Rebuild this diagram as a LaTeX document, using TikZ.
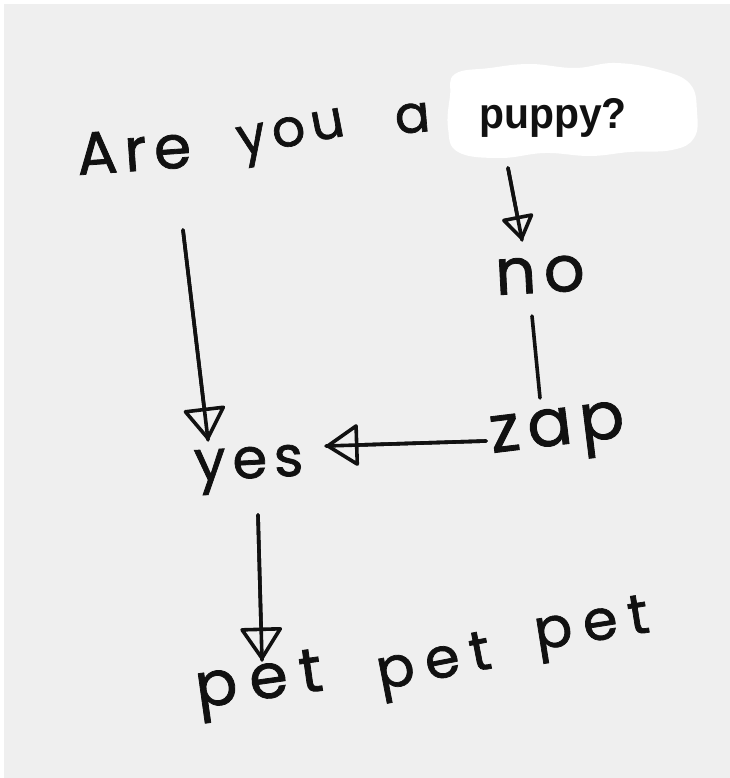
\documentclass[tikz,border=0pt]{standalone}
\usepackage{fontspec}
\usetikzlibrary{arrows.meta}
\newfontfamily\handfont{Poppins}[LetterSpace=12, FakeBold=1.3]
\newfontfamily\handwide{Poppins}[LetterSpace=20, FakeBold=1.3]
\newfontfamily\printfont{Liberation Sans}
\definecolor{paper}{HTML}{EFEFEF}
\definecolor{ink}{HTML}{111111}
\tikzset{
  hand/.style={inner sep=0pt, anchor=base west, text=ink, font=\handfont},
  handw/.style={hand, font=\handwide},
  conn/.style={draw=ink, line width=3.6pt, line cap=round},
  tipbig/.style={conn, line join=round,
    -{Triangle[open, length=34pt, width=44pt, line join=round]}},
  tipsmall/.style={conn, line join=round,
    -{Triangle[open, length=26pt, width=34pt, line join=round]}},
}
\newcommand{\hs}[1]{\fontsize{#1}{#1}\selectfont}
\begin{document}
\begin{tikzpicture}[x=1pt, y=-1pt]
  \useasboundingbox (0,0) rectangle (729,778);
  \fill[white] (0,0) rectangle (729,778);
  \fill[paper] (4,4) rectangle (730,779);

  % question line
  \node[hand, rotate=4]  (are) at (78,175) {\hs{60}Are};
  \node[hand, rotate=11] (you) at (240,156) {\hs{52}you};
  \node[hand, rotate=5]  (a)   at (396,134) {\hs{52}a};

  % white patch behind the printed word
  \fill[white] plot[smooth cycle, tension=0.7] coordinates {
    (455,74) (490,68) (530,64) (575,68) (615,63) (660,70) (690,84)
    (697,112) (694,138) (672,150) (630,152) (590,156) (545,153)
    (500,158) (458,152) (448,128) (450,96)};
  \node[inner sep=0pt, anchor=base west, text=ink, font=\printfont\bfseries,
        xscale=0.95] (puppy) at (479,129) {\fontsize{43}{43}\selectfont puppy?};

  % answers
  \node[hand, rotate=3] (no)  at (496,295) {\hs{64}no};
  \node[hand, rotate=7] (zap) at (492,453) {\hs{66}zap};
  \node[hand, rotate=3] (yes) at (195,481) {\hs{56}yes};

  \node[handw, rotate=8]  (pet1) at (198,708) {\hs{62}pet};
  \node[handw, rotate=11] (pet2) at (380,690) {\hs{56}pet};
  \node[handw, rotate=9]  (pet3) at (537,650) {\hs{56}pet};

  % connector end points
  \coordinate (s1) at (183,230);  \coordinate (e1) at (208,440);
  \coordinate (s2) at (508,168);  \coordinate (e2) at (522,240);
  \coordinate (s3) at (532,316);  \coordinate (e3) at (540,398);
  \coordinate (s4) at (486,441);  \coordinate (e4) at (326,446);
  \coordinate (s5) at (258,515);  \coordinate (e5) at (262,660);

  % are -> yes
  \draw[tipbig] (s1) -- (e1);   \draw[conn] (s1) -- (e1);
  % puppy -> no
  \draw[tipsmall] (s2) -- (e2); \draw[conn] (s2) -- (e2);
  % no -- zap
  \draw[conn] (s3) -- (e3);
  % zap -> yes
  \draw[tipbig] (s4) -- (e4);   \draw[conn] (s4) -- (e4);
  % yes -> pet
  \draw[tipbig] (s5) -- (e5);   \draw[conn] (s5) -- (e5);
\end{tikzpicture}
\end{document}
